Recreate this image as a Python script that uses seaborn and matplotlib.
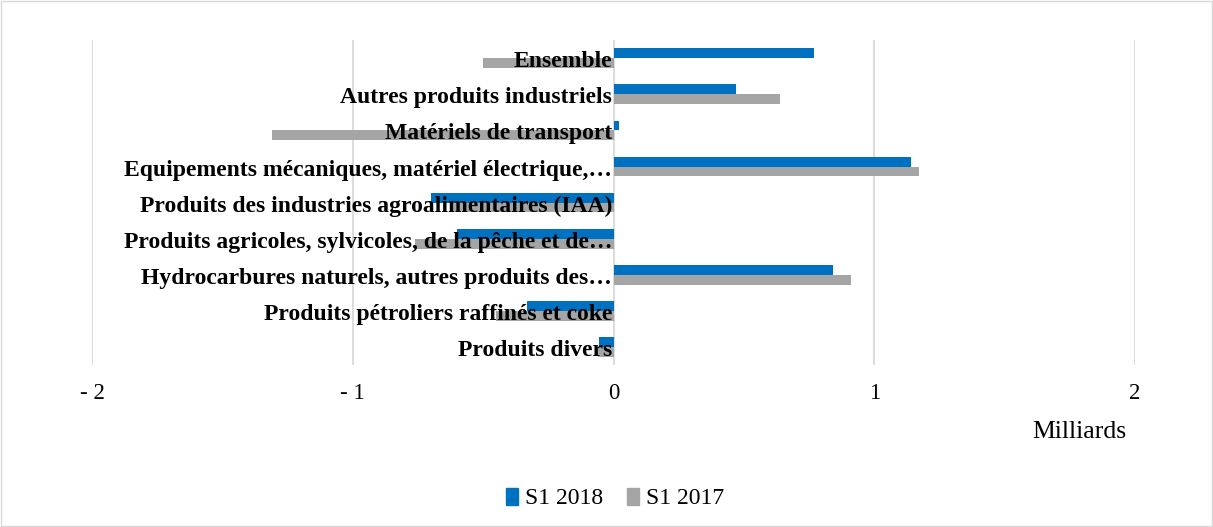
import pandas as pd
import matplotlib.pyplot as plt
import seaborn as sns
from matplotlib.patches import Rectangle

# Données (milliards)
categories = [
    "Ensemble",
    "Autres produits industriels",
    "Matériels de transport",
    "Equipements mécaniques, matériel électrique,…",
    "Produits des industries agroalimentaires (IAA)",
    "Produits agricoles, sylvicoles, de la pêche et de…",
    "Hydrocarbures naturels, autres produits des…",
    "Produits pétroliers raffinés et coke",
    "Produits divers",
]
s1_2018 = [0.77, 0.47, 0.02, 1.14, -0.70, -0.60, 0.84, -0.33, -0.055]
s1_2017 = [-0.50, 0.64, -1.31, 1.17, -0.62, -0.76, 0.91, -0.45, -0.06]
series = ["S1 2018", "S1 2017"]
xticks = [-2, -1, 0, 1, 2]
xtick_labels = ["- 2", "- 1", "0", "1", "2"]
couleurs = ["#0070C0", "#A5A5A5"]

df = pd.DataFrame({
    "cat": categories * 2,
    "serie": [series[0]] * len(categories) + [series[1]] * len(categories),
    "val": s1_2018 + s1_2017,
})

sns.set_style("white")
plt.rcParams["font.family"] = ["Liberation Serif", "DejaVu Serif"]
plt.rcParams["text.color"] = "black"

fig = plt.figure(figsize=(12.13, 5.27), dpi=100)
ax = fig.add_axes([0.0758, 0.307, 0.86, 0.617])

sns.barplot(data=df, y="cat", x="val", hue="serie", orient="h",
            palette=couleurs, saturation=1, width=0.54, linewidth=0,
            ax=ax, zorder=2)

ax.set_xlim(-2, 2)
ax.set_xticks(xticks)
ax.set_xticklabels(xtick_labels, fontsize=16.5, color="black")
ax.tick_params(axis="x", length=0, pad=13)
ax.set_yticks([])
ax.set_xlabel("")
ax.set_ylabel("")
for s in ax.spines.values():
    s.set_visible(False)
for x in xticks:
    ax.axvline(x, color="#D9D9D9", lw=1.3, zorder=0)

# étiquettes des catégories, le long de l'axe zéro
for i, c in enumerate(categories):
    ax.text(-0.005, i + 0.1, c, ha="right", va="center", fontsize=17,
            fontweight="bold", color="black", zorder=5)

ax.get_legend().remove()
handles = [Rectangle((0, 0), 1, 1, color=c) for c in couleurs]
fig.legend(handles, series, loc="center", bbox_to_anchor=(0.507, 0.054),
           ncol=2, frameon=False, fontsize=17, handlelength=0.5,
           handleheight=0.75, handletextpad=0.3, columnspacing=1.0)

fig.text(0.89, 0.18, "Milliards", ha="center", va="center", fontsize=18.5)

# cadre
fig.patches.append(Rectangle((0.001, 0.002), 0.998, 0.996, transform=fig.transFigure,
                             fill=False, edgecolor="#D9D9D9", lw=1))

plt.savefig("out.png", dpi=100)
